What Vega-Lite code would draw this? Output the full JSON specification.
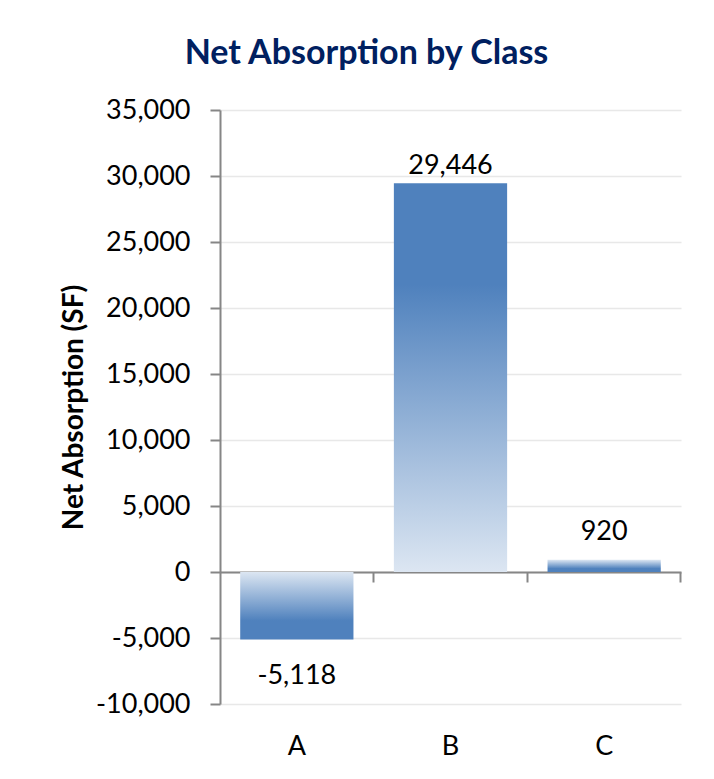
{
  "$schema": "https://vega.github.io/schema/vega-lite/v6.json",
  "width": 461,
  "height": 594,
  "autosize": {"type": "none"},
  "padding": {"left": 220, "top": 110, "right": 33, "bottom": 75},
  "background": "white",
  "config": {
    "font": "Lato",
    "view": {"stroke": null}
  },
  "title": {
    "text": "Net Absorption by Class",
    "font": "Lato",
    "fontSize": 34,
    "fontWeight": "bold",
    "color": "#002060",
    "anchor": "middle",
    "frame": "group",
    "dx": -84,
    "baseline": "alphabetic",
    "offset": -2
  },
  "data": {
    "values": [
      {"cls": "A", "v": -5118},
      {"cls": "B", "v": 29446},
      {"cls": "C", "v": 920}
    ]
  },
  "encoding": {
    "x": {
      "field": "cls",
      "type": "nominal",
      "sort": ["A", "B", "C"],
      "scale": {"paddingInner": 0.263, "paddingOuter": 0.1315},
      "axis": {
        "title": null,
        "offset": -132,
        "bandPosition": 1.1784,
        "tickExtra": false,
        "tickSize": 10,
        "tickWidth": 2,
        "tickColor": "#868686",
        "domainColor": "#868686",
        "domainWidth": 2,
        "labelAngle": 0,
        "labelFontSize": 27,
        "labelColor": "#000000",
        "labelPadding": 151,
        "grid": false
      }
    },
    "y": {
      "field": "v",
      "type": "quantitative",
      "scale": {"domain": [-10000, 35000], "nice": false, "zero": false},
      "axis": {
        "title": "Net Absorption (SF)",
        "titleFontSize": 28,
        "titleFontWeight": "bold",
        "titleColor": "#000000",
        "titleAngle": -90,
        "titleX": -138,
        "titleY": 297,
        "titleAlign": "center",
        "titleBaseline": "alphabetic",
        "values": [-10000, -5000, 0, 5000, 10000, 15000, 20000, 25000, 30000, 35000],
        "labelExpr": "replace(format(datum.value, ','), '\u2212', '-')",
        "labelFontSize": 27,
        "labelColor": "#000000",
        "labelPadding": 20,
        "tickSize": 10,
        "tickWidth": 2,
        "tickColor": "#868686",
        "domainColor": "#868686",
        "domainWidth": 2,
        "grid": true,
        "gridColor": "#e8e8e8",
        "gridWidth": 1.5
      }
    }
  },
  "layer": [
    {
      "mark": {"type": "bar"},
      "encoding": {
        "fill": {
          "condition": {
            "test": "datum.cls === 'B'",
            "value": {
              "gradient": "linear", "x1": 0, "y1": 0, "x2": 0, "y2": 1,
              "stops": [
                {"offset": 0, "color": "#4f81bd"},
                {"offset": 0.26, "color": "#4f81bd"},
                {"offset": 1, "color": "#dce6f2"}
              ]
            }
          },
          "value": {
            "gradient": "linear", "x1": 0, "y1": 0, "x2": 0, "y2": 1,
            "stops": [
              {"offset": 0, "color": "#dce6f2"},
              {"offset": 0.72, "color": "#4f81bd"},
              {"offset": 1, "color": "#4f81bd"}
            ]
          }
        }
      }
    },
    {
      "transform": [{"filter": "datum.v >= 5000"}],
      "mark": {"type": "text", "fontSize": 27, "color": "#000000", "baseline": "alphabetic", "dy": -9, "text": {"expr": "replace(format(datum.v, ','), '\u2212', '-')"}},
      "encoding": {}
    },
    {
      "transform": [{"filter": "datum.v >= 0 && datum.v < 5000"}],
      "mark": {"type": "text", "fontSize": 27, "color": "#000000", "baseline": "alphabetic", "dy": -20, "text": {"expr": "replace(format(datum.v, ','), '\u2212', '-')"}},
      "encoding": {}
    },
    {
      "transform": [{"filter": "datum.v < 0"}],
      "mark": {"type": "text", "fontSize": 27, "color": "#000000", "baseline": "alphabetic", "dy": 44, "text": {"expr": "replace(format(datum.v, ','), '\u2212', '-')"}},
      "encoding": {}
    }
  ]
}
